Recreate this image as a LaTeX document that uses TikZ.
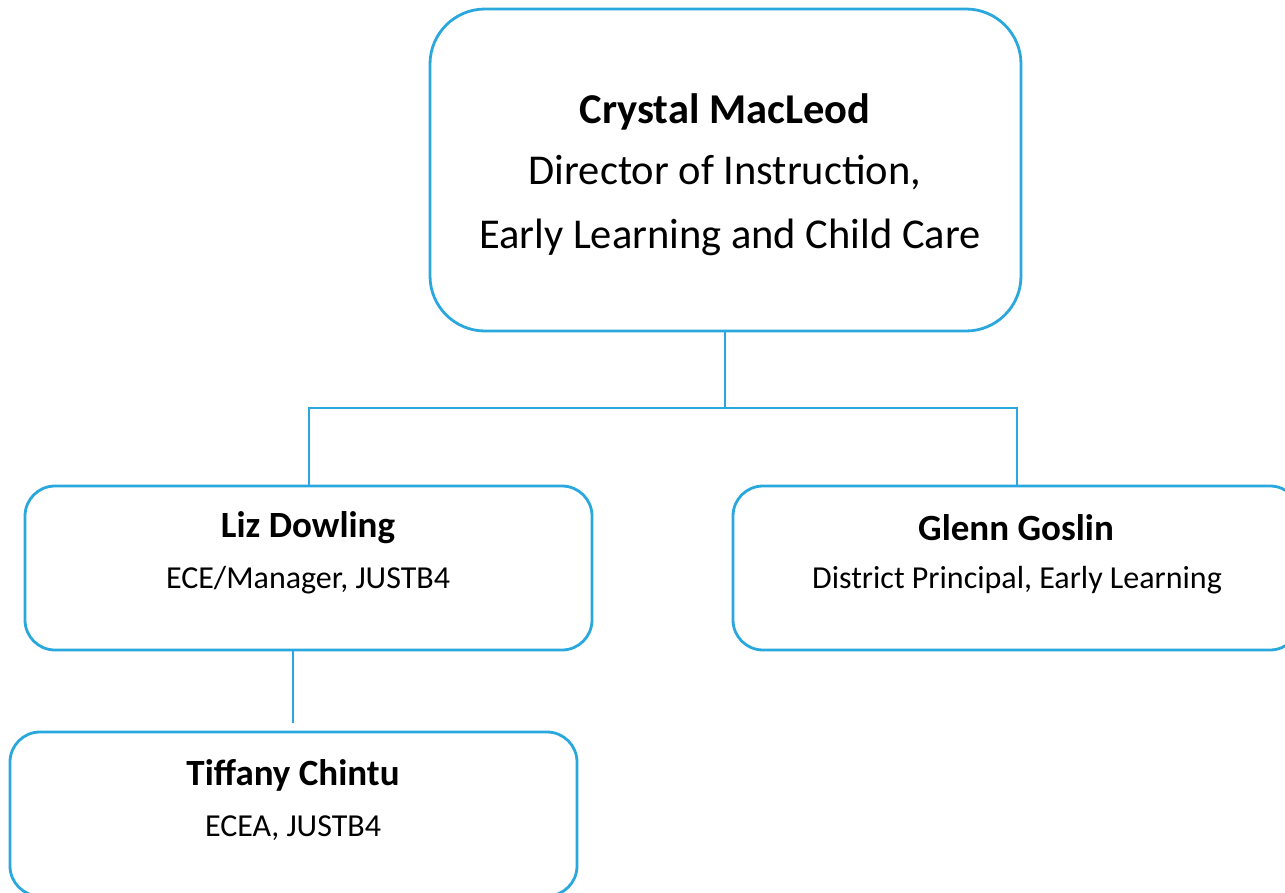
\documentclass[tikz,border=0pt]{standalone}
\usepackage{fontspec}
\setmainfont{Carlito}
\definecolor{orgblue}{HTML}{2AA8DE}
\begin{document}
\begin{tikzpicture}[x=1pt,y=-1pt,
  box/.style={draw=orgblue,line width=2.8pt,rounded corners=#1,inner sep=0pt,fill=white},
  conn/.style={draw=orgblue,line width=2pt},
  txt/.style={inner sep=0pt,align=center,text=black},
  bigtxt/.style={txt,font=\fontsize{42.5}{48}\selectfont},
  nametxt/.style={txt,font=\fontsize{37}{42}\selectfont\bfseries},
  roletxt/.style={txt,font=\fontsize{32}{36}\selectfont}]
\useasboundingbox (0,0) rectangle (1285,892);
\clip (0,0) rectangle (1285,892);
% boxes
\node[box=55pt,minimum width=591pt,minimum height=322pt] (top) at (725.5,170) {};
\node[box=30pt,minimum width=567pt,minimum height=164pt] (liz) at (308.5,568) {};
\node[box=30pt,minimum width=567pt,minimum height=164pt] (glenn) at (1016.5,568) {};
\node[box=30pt,minimum width=567pt,minimum height=164pt] (tiff) at (293.5,814) {};
% texts
\node[bigtxt,font=\fontsize{42.5}{48}\selectfont\bfseries] (t1) at (725,112) {Crystal MacLeod};
\node[bigtxt] (t2) at (725,173) {Director of Instruction,};
\node[bigtxt] (t3) at (730,237) {Early Learning and Child Care};
\node[nametxt] (l1) at (308,528) {Liz Dowling};
\node[roletxt] (l2) at (308,580) {ECE/Manager, JUSTB4};
\node[nametxt] (g1) at (1016,528) {Glenn Goslin};
\node[roletxt] (g2) at (1017,580) {District Principal, Early Learning};
\node[nametxt] (c1) at (293,775) {Tiffany Chintu};
\node[roletxt] (c2) at (293,828) {ECEA, JUSTB4};
% connectors
\coordinate (j) at (725,408);
\coordinate (tend) at (293,723);
\draw[conn] (top.south -| j) -- (j);
\draw[conn] (j) -| (liz.north);
\draw[conn] (j) -| (glenn.north);
\draw[conn] (liz.south -| tend) -- (tend);
\end{tikzpicture}
\end{document}
